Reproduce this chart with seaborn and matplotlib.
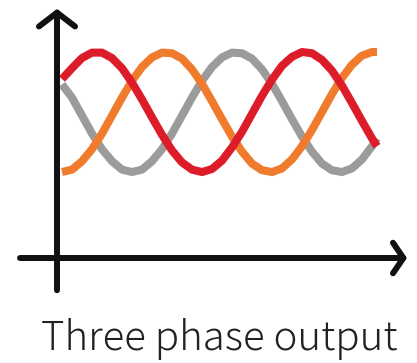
import pandas as pd
import matplotlib
matplotlib.use("Agg")
import matplotlib.pyplot as plt
import seaborn as sns

# Sample times and the three phase voltages (normalised amplitude)
t = [0, 10, 20, 30, 40, 50, 60, 70, 80, 90, 100, 110, 120, 130, 140, 150,
     160, 170, 180, 190, 200, 210, 220, 230, 240, 250, 260, 270, 280, 290,
     300, 310, 315]
red = [0.55, 0.73, 0.90, 0.99, 0.99, 0.90, 0.73, 0.49, 0.21, -0.09, -0.38,
       -0.64, -0.84, -0.96, -1.00, -0.95, -0.81, -0.59, -0.33, -0.03, 0.27,
       0.54, 0.77, 0.92, 1.00, 0.98, 0.87, 0.69, 0.44, 0.15, -0.15, -0.44,
       -0.57]
orange = [-1.00, -0.96, -0.82, -0.62, -0.36, -0.06, 0.24, 0.52, 0.75, 0.91,
          0.99, 0.98, 0.89, 0.71, 0.47, 0.18, -0.12, -0.41, -0.66, -0.86,
          -0.97, -1.00, -0.94, -0.79, -0.57, -0.30, 0.00, 0.30, 0.57, 0.79,
          0.94, 1.00, 1.00]
gray = [0.46, 0.24, -0.06, -0.36, -0.62, -0.82, -0.96, -1.00, -0.96, -0.82,
        -0.62, -0.36, -0.06, 0.24, 0.52, 0.75, 0.91, 0.99, 0.98, 0.89, 0.71,
        0.47, 0.18, -0.12, -0.41, -0.66, -0.86, -0.97, -1.00, -0.94, -0.79,
        -0.57, -0.44]

phases = ["gray", "orange", "red"]
colors = {"gray": "#9b9b9b", "orange": "#f07b2c", "red": "#dd1c2a"}

df = pd.DataFrame({
    "t": t * 3,
    "v": gray + orange + red,
    "phase": ["gray"] * len(t) + ["orange"] * len(t) + ["red"] * len(t),
})

sns.set_theme(style="white")
plt.rcParams["font.family"] = ["Noto Sans CJK JP", "DejaVu Sans"]

fig = plt.figure(figsize=(4.17, 3.63), dpi=100)
ax = fig.add_axes([0, 0, 1, 1])
ax.axis("off")

sns.lineplot(data=df, x="t", y="v", hue="phase", hue_order=phases,
             palette=colors, linewidth=5.8, legend=False, ax=ax,
             solid_capstyle="butt")

ax.set_xlim(-62, 355)
ax.set_ylim(-4.183, 1.867)

# hand drawn style axes with open arrow heads
ax.annotate("", xy=(-5, 1.72), xytext=(-5, -2.97),
            arrowprops=dict(arrowstyle="->,head_length=1.0,head_width=1.3",
                            mutation_scale=10, lw=4.3, color="#111111",
                            shrinkA=0, shrinkB=0, capstyle="round",
                            joinstyle="round"))
ax.annotate("", xy=(345, -2.433), xytext=(-42, -2.433),
            arrowprops=dict(arrowstyle="->,head_length=0.75,head_width=1.1",
                            mutation_scale=10, lw=4.3, color="#111111",
                            shrinkA=0, shrinkB=0, capstyle="round",
                            joinstyle="round"))

fig.text(0.525, 1 - 350 / 363, "Three phase output", ha="center",
         va="baseline", fontsize=29, color="#222222", fontweight="light")

fig.savefig("out.png", dpi=100, facecolor="white")
